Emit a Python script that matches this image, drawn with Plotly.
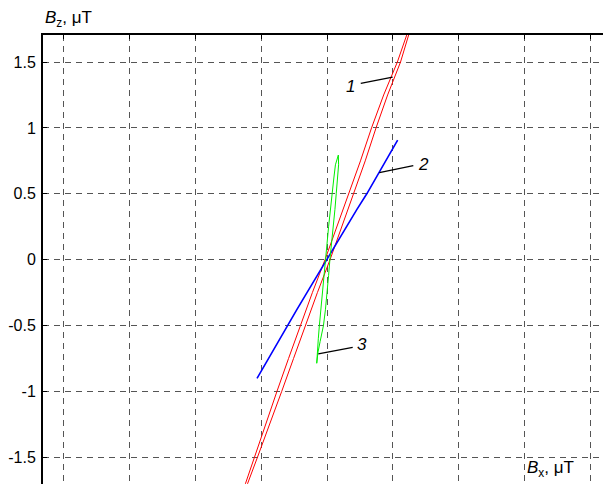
import plotly.graph_objects as go

# ---- data, units: µT ----
# curve 1 (red), thin loop: right branch up, left branch down
red_x = [-0.646, -0.603, -0.528, -0.434, -0.344, -0.254, -0.166, -0.073, 0.023, 0.111, 0.204, 0.290,
         0.372, 0.460, 0.558, 0.623, 0.648,
         0.605, 0.534, 0.430, 0.338, 0.254, 0.166, 0.073, -0.015, -0.111, -0.204, -0.292,
         -0.380, -0.466, -0.552, -0.619, -0.646]
red_y = [-1.80, -1.70, -1.50, -1.25, -1.00, -0.75, -0.50, -0.25, 0.00, 0.25, 0.50, 0.75,
         1.00, 1.25, 1.50, 1.705, 1.80,
         1.705, 1.50, 1.25, 1.00, 0.75, 0.50, 0.25, 0.00, -0.25, -0.50, -0.75,
         -1.00, -1.25, -1.50, -1.70, -1.80]

# curve 2 (blue)
blue_x = [-0.531, -0.474, -0.393, -0.302, -0.230, -0.152, -0.080, -0.004, 0.072, 0.148, 0.226, 0.302, 0.386, 0.460, 0.536]
blue_y = [-0.900, -0.800, -0.660, -0.500, -0.380, -0.250, -0.130, 0.000, 0.130, 0.250, 0.380, 0.500, 0.650, 0.780, 0.908]

# curve 3 (green), thin loop
green_x = [-0.078, -0.068, -0.052, -0.038, -0.027, -0.012, 0.002, 0.012, 0.022, 0.035, 0.048, 0.060, 0.070, 0.080, 0.088, 0.086,
           0.078, 0.064, 0.052, 0.038, 0.025, 0.012, 0.000, -0.012, -0.024, -0.036, -0.048, -0.058, -0.066, -0.074, -0.078]
green_y = [-0.786, -0.700, -0.620, -0.550, -0.500, -0.380, -0.250, -0.120, 0.000, 0.120, 0.250, 0.380, 0.500, 0.620, 0.720, 0.794,
           0.760, 0.720, 0.620, 0.500, 0.380, 0.250, 0.120, 0.000, -0.120, -0.250, -0.380, -0.500, -0.600, -0.700, -0.786]

# curve labels: text position and leader line (from, to)
label_text = ["1", "2", "3"]
label_x = [0.180, 0.736, 0.263]
label_y = [1.313, 0.719, -0.647]
leader_x0 = [0.256, 0.397, -0.066]
leader_y0 = [1.338, 0.660, -0.715]
leader_x1 = [0.498, 0.655, 0.195]
leader_y1 = [1.386, 0.713, -0.665]

x_ticks = [-2, -1.5, -1, -0.5, 0, 0.5, 1, 1.5, 2]
y_ticks = [-1.5, -1, -0.5, 0, 0.5, 1, 1.5]
y_tick_text = ["-1.5", "-1", "-0.5", "0", "0.5", "1", "1.5"]

FONT = "Liberation Sans, Arial, sans-serif"

fig = go.Figure()
fig.add_trace(go.Scatter(x=red_x, y=red_y, mode="lines", line=dict(color="#ff0000", width=1), showlegend=False))
fig.add_trace(go.Scatter(x=blue_x, y=blue_y, mode="lines", line=dict(color="#0000ff", width=1.6), showlegend=False))
fig.add_trace(go.Scatter(x=green_x, y=green_y, mode="lines", line=dict(color="#00ee00", width=1), showlegend=False))

for t, lx, ly, x0, y0, x1, y1 in zip(label_text, label_x, label_y, leader_x0, leader_y0, leader_x1, leader_y1):
    fig.add_shape(type="line", x0=x0, y0=y0, x1=x1, y1=y1, xref="x", yref="y",
                  line=dict(color="black", width=1.3))
    fig.add_annotation(x=lx, y=ly, text="<i>%s</i>" % t, showarrow=False, xref="x", yref="y",
                       font=dict(family=FONT, size=17, color="black"))

fig.add_annotation(x=0.0, y=1, xref="paper", yref="paper", xanchor="left", yanchor="bottom", yshift=3,
                   text="<i>B</i><sub>z</sub>, μT", showarrow=False,
                   font=dict(family=FONT, size=17, color="black"))
fig.add_annotation(x=0.848, y=0, xref="paper", yref="paper", xanchor="left", yanchor="bottom", yshift=2,
                   text="<i>B</i><sub>x</sub>, μT", showarrow=False,
                   font=dict(family=FONT, size=17, color="black"))

# page body has an 8px margin: figure is drawn from (8, 8) to the window edges
fig.update_layout(
    width=603, height=476,
    margin=dict(l=35, r=0, t=27, b=0, autoexpand=False),
    paper_bgcolor="white", plot_bgcolor="white",
    font=dict(family=FONT, size=16, color="black"),
    xaxis=dict(range=[-2.155, 2.155], side="top", tickvals=x_ticks, showticklabels=False,
               automargin=False,
               showgrid=True, gridcolor="#555555", griddash="6px,5px", gridwidth=1,
               showline=True, linecolor="black", linewidth=1.5, zeroline=False,
               ticks="inside", ticklen=4, tickcolor="black"),
    yaxis=dict(range=[-1.702, 1.705], tickvals=y_ticks, ticktext=y_tick_text,
               automargin=False,
               showgrid=True, gridcolor="#555555", griddash="6px,5px", gridwidth=1,
               showline=True, linecolor="black", linewidth=2, zeroline=False,
               ticks="inside", ticklen=4, tickcolor="black", ticklabelstandoff=2,
               tickfont=dict(family=FONT, size=16, color="black")),
)

fig.write_html("out.html")
